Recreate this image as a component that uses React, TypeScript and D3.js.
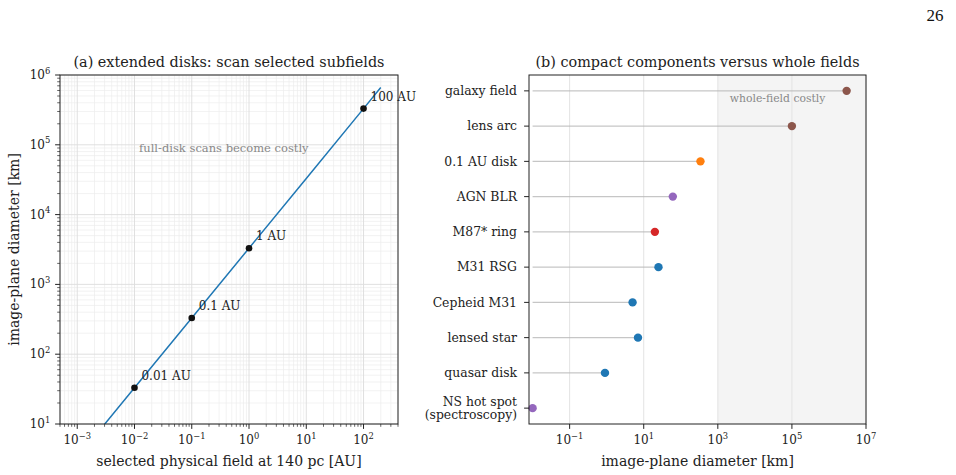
import React, { useEffect } from "react";
import * as d3 from "d3";

// panel (a): selected physical field vs image-plane diameter
const lineAU = [0.001, 0.01, 0.1, 1, 10, 100, 200];
const lineKm = [3.3, 33, 330, 3300, 33000, 330000, 660000];
const markAU = [0.01, 0.1, 1, 100];
const markKm = [33, 330, 3300, 330000];
const markLabels = ["0.01 AU", "0.1 AU", "1 AU", "100 AU"];

// panel (b): compact components vs whole fields (top to bottom)
const targets = [
  "galaxy field",
  "lens arc",
  "0.1 AU disk",
  "AGN BLR",
  "M87* ring",
  "M31 RSG",
  "Cepheid M31",
  "lensed star",
  "quasar disk",
  "NS hot spot\n(spectroscopy)",
];
const diameterKm = [3.0e6, 1.0e5, 340, 61, 20, 25, 5.0, 7.0, 0.9, 0.01];
const targetColors = [
  "#8c564b", "#8c564b", "#ff7f0e", "#9467bd", "#d62728",
  "#1f77b4", "#1f77b4", "#1f77b4", "#1f77b4", "#9467bd",
];
const stemStartKm = 0.01;
const costlyFromKm = 1e3;

const W = 956;
const H = 475;
const FONT = "'DejaVu Serif', serif";

function Pow10({ x, y, e, size }: { x: number; y: number; e: number; size: number }) {
  const s = String(e).replace("-", "−");
  return (
    <text x={x} y={y} textAnchor="middle" fontSize={size} fontFamily={FONT} fill="#222">
      10
      <tspan fontSize={size * 0.7} dy={-size * 0.45}>{s}</tspan>
    </text>
  );
}

function minorTicks(lo: number, hi: number) {
  const out: number[] = [];
  for (let e = Math.floor(Math.log10(lo)); e <= Math.ceil(Math.log10(hi)); e++) {
    for (let m = 2; m <= 9; m++) {
      const v = m * Math.pow(10, e);
      if (v >= lo && v <= hi) out.push(v);
    }
  }
  return out;
}

function majorTicks(lo: number, hi: number) {
  const out: number[] = [];
  for (let e = Math.ceil(Math.log10(lo)); e <= Math.floor(Math.log10(hi) + 1e-9); e++) {
    out.push(e);
  }
  return out;
}

const App = () => {
  useEffect(() => {
    document.body.style.margin = "0";
  }, []);

  // ----- left panel scales -----
  const L = { x0: 60, x1: 398, y0: 75, y1: 424 };
  const xL = d3.scaleLog().domain([5e-4, 4e2]).range([L.x0, L.x1]);
  const yL = d3.scaleLog().domain([10, 1e6]).range([L.y1, L.y0]);
  const lineGen = d3
    .line<number>()
    .x((d) => xL(d))
    .y((_, i) => yL(lineKm[i]));

  // ----- right panel scales -----
  const R = { x0: 529, x1: 866, y0: 75, y1: 424 };
  const xR = d3.scaleLog().domain([8e-3, 1e7]).range([R.x0, R.x1]);
  const yR = d3.scaleLinear().domain([-0.45, targets.length - 1 + 0.45]).range([R.y0, R.y1]);

  const xLmaj = majorTicks(5e-4, 4e2);
  const xLmin = minorTicks(5e-4, 4e2);
  const yLmaj = majorTicks(10, 1e6);
  const yLmin = minorTicks(10, 1e6);
  const xRmaj = [-1, 1, 3, 5, 7];

  const tickFs = 12;
  const catFs = 12.4;
  const labFs = 14;
  const titleFs = 14.4;

  return (
    <svg width={W} height={H} style={{ display: "block", background: "#fff" }}>
      <defs>
        <clipPath id="clipL">
          <rect x={L.x0} y={L.y0} width={L.x1 - L.x0} height={L.y1 - L.y0} />
        </clipPath>
      </defs>

      <text x={935} y={21} textAnchor="middle" fontSize={17} fontFamily="'Liberation Serif', serif" fill="#111">
        26
      </text>

      {/* ================= panel (a) ================= */}
      <g>
        {xLmin.map((v) => (
          <line key={"gxm" + v} x1={xL(v)} x2={xL(v)} y1={L.y0} y2={L.y1} stroke="#ededed" strokeWidth={0.7} />
        ))}
        {yLmin.map((v) => (
          <line key={"gym" + v} y1={yL(v)} y2={yL(v)} x1={L.x0} x2={L.x1} stroke="#ededed" strokeWidth={0.7} />
        ))}
        {xLmaj.map((e) => (
          <line key={"gx" + e} x1={xL(10 ** e)} x2={xL(10 ** e)} y1={L.y0} y2={L.y1} stroke="#dcdcdc" strokeWidth={0.9} />
        ))}
        {yLmaj.map((e) => (
          <line key={"gy" + e} y1={yL(10 ** e)} y2={yL(10 ** e)} x1={L.x0} x2={L.x1} stroke="#dcdcdc" strokeWidth={0.9} />
        ))}

        <path d={lineGen(lineAU) || ""} fill="none" stroke="#1f77b4" strokeWidth={1.5} clipPath="url(#clipL)" />
        {markAU.map((v, i) => (
          <circle key={"m" + i} cx={xL(v)} cy={yL(markKm[i])} r={3.3} fill="#111" />
        ))}
        {markAU.map((v, i) => (
          <text
            key={"ml" + i}
            x={xL(v) + 7}
            y={yL(markKm[i]) - 8}
            fontSize={12}
            fontFamily={FONT}
            fill="#222"
          >
            {markLabels[i]}
          </text>
        ))}
        <text x={xL(0.012)} y={yL(9e4)} dy="0.35em" fontSize={11.5} fontFamily={FONT} fill="#888">
          full-disk scans become costly
        </text>

        <rect x={L.x0} y={L.y0} width={L.x1 - L.x0} height={L.y1 - L.y0} fill="none" stroke="#222" strokeWidth={1} />

        {xLmin.map((v) => (
          <line key={"txm" + v} x1={xL(v)} x2={xL(v)} y1={L.y1} y2={L.y1 + 2.8} stroke="#222" strokeWidth={0.7} />
        ))}
        {xLmaj.map((e) => (
          <g key={"tx" + e}>
            <line x1={xL(10 ** e)} x2={xL(10 ** e)} y1={L.y1} y2={L.y1 + 4.9} stroke="#222" strokeWidth={1} />
            <Pow10 x={xL(10 ** e)} y={L.y1 + 20} e={e} size={tickFs} />
          </g>
        ))}
        {yLmin.map((v) => (
          <line key={"tym" + v} y1={yL(v)} y2={yL(v)} x1={L.x0} x2={L.x0 - 2.8} stroke="#222" strokeWidth={0.7} />
        ))}
        {yLmaj.map((e) => (
          <g key={"ty" + e}>
            <line y1={yL(10 ** e)} y2={yL(10 ** e)} x1={L.x0} x2={L.x0 - 4.9} stroke="#222" strokeWidth={1} />
            <Pow10 x={L.x0 - 20} y={yL(10 ** e) + 4} e={e} size={tickFs} />
          </g>
        ))}

        <text x={(L.x0 + L.x1) / 2} y={67} textAnchor="middle" fontSize={titleFs} fontFamily={FONT} fill="#222">
          (a) extended disks: scan selected subfields
        </text>
        <text x={(L.x0 + L.x1) / 2} y={466} textAnchor="middle" fontSize={labFs} fontFamily={FONT} fill="#222">
          selected physical field at 140 pc [AU]
        </text>
        <text
          transform={`translate(19,${(L.y0 + L.y1) / 2}) rotate(-90)`}
          textAnchor="middle"
          fontSize={labFs}
          fontFamily={FONT}
          fill="#222"
        >
          image-plane diameter [km]
        </text>
      </g>

      {/* ================= panel (b) ================= */}
      <g>
        <rect x={xR(costlyFromKm)} y={R.y0} width={R.x1 - xR(costlyFromKm)} height={R.y1 - R.y0} fill="#f4f4f4" />
        {xRmaj.map((e) => (
          <line key={"gr" + e} x1={xR(10 ** e)} x2={xR(10 ** e)} y1={R.y0} y2={R.y1} stroke="#e3e3e3" strokeWidth={1} />
        ))}
        <text x={xR(1e3) + 12} y={yR(0) + 7} dy="0.35em" fontSize={10.8} fontFamily={FONT} fill="#888">
          whole-field costly
        </text>

        {targets.map((t, i) => (
          <line
            key={"s" + i}
            x1={xR(stemStartKm)}
            x2={xR(diameterKm[i])}
            y1={yR(i)}
            y2={yR(i)}
            stroke="#b8b8b8"
            strokeOpacity={0.8}
            strokeWidth={1.3}
          />
        ))}
        {targets.map((t, i) => (
          <circle key={"p" + i} cx={xR(diameterKm[i])} cy={yR(i)} r={4.2} fill={targetColors[i]} />
        ))}

        <rect x={R.x0} y={R.y0} width={R.x1 - R.x0} height={R.y1 - R.y0} fill="none" stroke="#222" strokeWidth={1} />

        {targets.map((t, i) => {
          const lines = t.split("\n");
          return (
            <g key={"yt" + i}>
              <line x1={R.x0} x2={R.x0 - 4.9} y1={yR(i)} y2={yR(i)} stroke="#222" strokeWidth={1} />
              <text
                x={R.x0 - 12}
                y={yR(i)}
                textAnchor="end"
                fontSize={catFs}
                fontFamily={FONT}
                fill="#222"
              >
                {lines.map((s, k) => (
                  <tspan key={k} x={R.x0 - 12} dy={k === 0 ? (lines.length === 1 ? "0.35em" : "-0.2em") : "1.1em"}>
                    {s}
                  </tspan>
                ))}
              </text>
            </g>
          );
        })}
        {xRmaj.map((e) => (
          <g key={"tr" + e}>
            <line x1={xR(10 ** e)} x2={xR(10 ** e)} y1={R.y1} y2={R.y1 + 4.9} stroke="#222" strokeWidth={1} />
            <Pow10 x={xR(10 ** e)} y={R.y1 + 20} e={e} size={tickFs} />
          </g>
        ))}

        <text x={(R.x0 + R.x1) / 2} y={67} textAnchor="middle" fontSize={titleFs} fontFamily={FONT} fill="#222">
          (b) compact components versus whole fields
        </text>
        <text x={(R.x0 + R.x1) / 2} y={466} textAnchor="middle" fontSize={labFs} fontFamily={FONT} fill="#222">
          image-plane diameter [km]
        </text>
      </g>
    </svg>
  );
};

export default App;
